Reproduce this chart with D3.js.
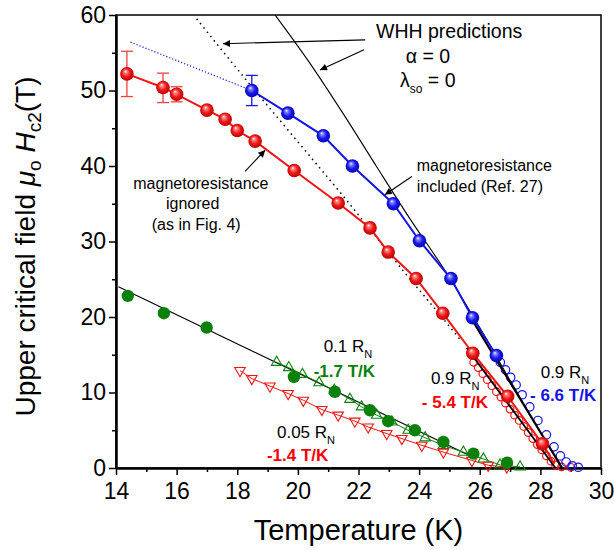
<!DOCTYPE html>
<html>
<head>
<meta charset="utf-8">
<script src="https://cdn.jsdelivr.net/npm/d3@7"></script>
<style>
  body { margin: 0; background: #fff; }
  svg { font-family: "Liberation Sans", Arial, sans-serif; }
</style>
</head>
<body>
<svg id="chart" width="614" height="550"></svg>
<script>
// ---- data (T in K, H in tesla) ----
// red spheres: magnetoresistance ignored
const redT = [14.36, 15.55, 16.0, 17.0, 17.6, 18.0, 18.59, 19.88, 21.33, 22.38, 22.98, 23.9, 24.78, 25.77, 26.92, 28.07];
const redH = [52.2, 50.4, 49.5, 47.4, 46.2, 44.7, 43.3, 39.4, 35.1, 31.8, 28.6, 25.1, 20.5, 15.2, 9.5, 3.2];
const redTailT = [28.07, 28.45];
const redTailH = [3.2, 0.6];
const redErrT = [14.36, 15.55, 16.0];
const redErrLo = [49.2, 48.4, 48.5];
const redErrHi = [55.2, 52.3, 50.5];

// blue spheres: magnetoresistance included
const blueT = [18.48, 19.67, 20.84, 21.8, 23.15, 24.01, 25.05, 25.76, 26.55];
const blueH = [50.0, 47.0, 44.0, 40.0, 35.0, 30.1, 25.1, 19.9, 14.9];
const blueErrT = [18.48];
const blueErrLo = [48.0];
const blueErrHi = [52.0];
const blueDotT = [14.48, 18.48];
const blueDotH = [56.4, 50.0];

// open circles, 0.9 R_N
const redOpenT = [25.8, 25.95, 26.1, 26.25, 26.4, 26.55, 26.7, 26.85, 27.0, 27.15, 27.3, 27.45, 27.6, 27.75, 27.9, 28.05, 28.2, 28.35, 28.5, 28.7, 29.0];
const redOpenH = [14.0, 13.3, 12.5, 11.7, 10.9, 10.1, 9.4, 8.6, 7.8, 7.0, 6.3, 5.5, 4.7, 3.9, 3.1, 2.4, 1.6, 0.9, 0.4, 0.15, 0.1];
const blueOpenT = [26.68, 26.85, 27.02, 27.2, 27.4, 27.65, 27.92, 28.2, 28.45, 28.66, 28.85, 29.05, 29.25];
const blueOpenH = [14.0, 13.0, 12.0, 11.0, 9.7, 8.1, 6.3, 4.4, 2.8, 1.6, 0.8, 0.3, 0.1];

// green filled circles and triangles
const greenT = [14.39, 15.58, 16.99, 19.87, 21.22, 22.38, 22.98, 23.86, 24.8, 25.79, 26.9];
const greenH = [22.8, 20.5, 18.6, 12.06, 10.1, 7.65, 6.2, 5.0, 3.45, 1.9, 0.7];
const greenTriT = [19.3, 19.7, 20.15, 20.7, 21.2, 21.72, 22.1, 22.6, 23.1, 23.64, 24.2, 24.8, 25.46, 26.12, 26.67, 27.33];
const greenTriH = [14.0, 13.3, 12.4, 11.3, 10.3, 9.1, 8.1, 7.0, 6.1, 5.0, 4.0, 3.0, 2.1, 1.2, 0.4, 0.15];
const redTriT = [18.09, 18.48, 19.08, 19.68, 20.18, 20.79, 21.33, 21.88, 22.32, 22.93, 23.43, 24.09, 24.8, 25.74, 26.28, 26.89];
const redTriH = [12.9, 11.85, 10.85, 9.86, 8.97, 7.75, 7.0, 6.2, 5.43, 4.56, 3.9, 3.0, 2.1, 1.0, 0.36, 0.13];

// WHH curves
const whhDotT = [16.66, 17.5, 18.5, 19.5, 20.5, 21.5, 22.5, 23.5, 24.5, 25.4];
const whhDotH = [59.5, 55.3, 50.4, 45.6, 40.8, 36.0, 31.0, 26.0, 21.2, 16.8];
const whhSolidT = [19.25, 20.4, 21.5, 22.6, 23.7, 24.91, 26.0, 27.0, 28.0, 28.7];
const whhSolidH = [60, 53.6, 46.9, 39.9, 33.0, 25.8, 18.6, 11.6, 4.7, 0];

// linear fits
const fitBlueT = [25.6, 28.72];
const fitBlueH = [20.6, 0];
const fitRedT = [25.57, 28.5];
const fitRedH = [15.9, 0];
const fitGreenT = [14.08, 25.9];
const fitGreenH = [24.0, 1.2];

const xTicks = [14, 16, 18, 20, 22, 24, 26, 28, 30];
const yTicks = [0, 10, 20, 30, 40, 50, 60];

// ---- chart ----
const width = 614, height = 550;
const margin = { top: 15, right: 13, bottom: 82, left: 116 };

const svg = d3.select("#chart");

const x = d3.scaleLinear().domain([14, 30]).range([margin.left, width - margin.right]);
const y = d3.scaleLinear().domain([0, 60]).range([height - margin.bottom, margin.top]);

const RED = "#f01414", BLUE = "#1414e6", GREEN = "#0b800b";

const zip = (a, b) => a.map((v, i) => [v, b[i]]);
const line = d3.line().x(d => x(d[0])).y(d => y(d[1]));
const curve = d3.line().x(d => x(d[0])).y(d => y(d[1])).curve(d3.curveMonotoneX);

// gradients for the shaded spheres
const defs = svg.append("defs");
function sphereGrad(id, light, base, dark) {
  const g = defs.append("radialGradient").attr("id", id)
    .attr("cx", "50%").attr("cy", "50%").attr("r", "55%")
    .attr("fx", "38%").attr("fy", "30%");
  g.append("stop").attr("offset", "0%").attr("stop-color", "#fff");
  g.append("stop").attr("offset", "18%").attr("stop-color", light);
  g.append("stop").attr("offset", "55%").attr("stop-color", base);
  g.append("stop").attr("offset", "100%").attr("stop-color", dark);
}
sphereGrad("gRed", "#ff8a8a", "#f01818", "#b00000");
sphereGrad("gBlue", "#8a8aff", "#1a1af0", "#0000a8");

defs.append("marker").attr("id", "arrow")
  .attr("viewBox", "0 0 10 10").attr("refX", 10).attr("refY", 5)
  .attr("markerWidth", 10).attr("markerHeight", 7)
  .attr("markerUnits", "userSpaceOnUse").attr("orient", "auto")
  .append("path").attr("d", "M0,0 L10,5 L0,10 z").attr("fill", "#000");

// frame
svg.append("rect")
  .attr("x", margin.left).attr("y", margin.top)
  .attr("width", width - margin.left - margin.right)
  .attr("height", height - margin.top - margin.bottom)
  .attr("fill", "none").attr("stroke", "#000").attr("stroke-width", 1.5);

// axes
const xAxis = svg.append("g")
  .attr("transform", `translate(0,${y(0)})`)
  .call(d3.axisBottom(x).tickValues(xTicks).tickSize(7).tickSizeOuter(0).tickPadding(8));
const yAxis = svg.append("g")
  .attr("transform", `translate(${x(14)},0)`)
  .call(d3.axisLeft(y).tickValues(yTicks).tickSize(7).tickSizeOuter(0).tickPadding(3));
// minor ticks
svg.append("g")
  .attr("transform", `translate(0,${y(0)})`)
  .call(d3.axisBottom(x).tickValues(d3.range(15, 30, 2)).tickSize(4).tickSizeOuter(0).tickFormat(""));
svg.append("g")
  .attr("transform", `translate(${x(14)},0)`)
  .call(d3.axisLeft(y).tickValues(d3.range(5, 60, 10)).tickSize(4).tickSizeOuter(0).tickFormat(""));
svg.selectAll(".domain").attr("stroke-width", 2);
svg.selectAll(".tick line").attr("stroke-width", 1.5);
svg.selectAll(".tick text").attr("font-size", 23).attr("font-family", "Liberation Sans, Arial, sans-serif").attr("fill", "#000");

// axis titles
svg.append("text")
  .attr("x", (x(14) + x(30)) / 2).attr("y", 540)
  .attr("text-anchor", "middle").attr("font-size", 29)
  .text("Temperature (K)");

const yt = svg.append("text")
  .attr("transform", `translate(35,${y(30) + 5}) rotate(-90)`)
  .attr("text-anchor", "middle").attr("font-size", 28);
yt.append("tspan").text("Upper critical field ");
yt.append("tspan").attr("font-style", "italic").text("\u03bc");
yt.append("tspan").attr("font-size", 19).attr("dy", 6).text("o");
yt.append("tspan").attr("dy", -6).text(" ");
yt.append("tspan").attr("font-style", "italic").text("H");
yt.append("tspan").attr("font-size", 19).attr("dy", 6).text("c2");
yt.append("tspan").attr("dy", -6).text("(T)");

// curves and lines
const plot = svg.append("g");

plot.append("path").datum(zip(blueDotT, blueDotH)).attr("d", line)
  .attr("fill", "none").attr("stroke", BLUE).attr("stroke-width", 1.2).attr("stroke-dasharray", "1.2,2");

plot.append("path").datum(zip(whhDotT, whhDotH)).attr("d", curve)
  .attr("fill", "none").attr("stroke", "#000").attr("stroke-width", 1.5).attr("stroke-dasharray", "1.5,4");

plot.append("path").datum(zip(whhSolidT, whhSolidH)).attr("d", curve)
  .attr("fill", "none").attr("stroke", "#000").attr("stroke-width", 1.1);

plot.append("path").datum(zip(fitGreenT, fitGreenH)).attr("d", line)
  .attr("fill", "none").attr("stroke", "#000").attr("stroke-width", 1.1);

plot.append("path").datum(zip(redTriT, redTriH)).attr("d", line)
  .attr("fill", "none").attr("stroke", RED).attr("stroke-width", 1);
plot.append("path").datum(zip(greenTriT, greenTriH)).attr("d", line)
  .attr("fill", "none").attr("stroke", GREEN).attr("stroke-width", 1);

// open circles
plot.selectAll(".ro").data(zip(redOpenT, redOpenH)).enter().append("circle")
  .attr("cx", d => x(d[0])).attr("cy", d => y(d[1])).attr("r", 3.8)
  .attr("fill", "none").attr("stroke", RED).attr("stroke-width", 1.2);
plot.selectAll(".bo").data(zip(blueOpenT, blueOpenH)).enter().append("circle")
  .attr("cx", d => x(d[0])).attr("cy", d => y(d[1])).attr("r", 4.2)
  .attr("fill", "none").attr("stroke", BLUE).attr("stroke-width", 1.2);

// fit lines for 0.9 R_N
plot.append("path").datum(zip(fitRedT, fitRedH)).attr("d", line)
  .attr("fill", "none").attr("stroke", "#000").attr("stroke-width", 1.8);
plot.append("path").datum(zip(fitBlueT, fitBlueH)).attr("d", line)
  .attr("fill", "none").attr("stroke", "#000").attr("stroke-width", 2.2);

// sphere lines
plot.append("path").datum(zip(redT, redH)).attr("d", line)
  .attr("fill", "none").attr("stroke", RED).attr("stroke-width", 2);
plot.append("path").datum(zip(redTailT, redTailH)).attr("d", line)
  .attr("fill", "none").attr("stroke", RED).attr("stroke-width", 2);
plot.append("path").datum(zip(blueT, blueH)).attr("d", line)
  .attr("fill", "none").attr("stroke", BLUE).attr("stroke-width", 2);

// triangles
const triUp = d3.symbol().type(d3.symbolTriangle).size(48);
plot.selectAll(".gt").data(zip(greenTriT, greenTriH)).enter().append("path")
  .attr("d", triUp).attr("transform", d => `translate(${x(d[0])},${y(d[1])})`)
  .attr("fill", "none").attr("stroke", GREEN).attr("stroke-width", 1.1);
plot.selectAll(".rt").data(zip(redTriT, redTriH)).enter().append("path")
  .attr("d", triUp).attr("transform", d => `translate(${x(d[0])},${y(d[1])}) rotate(180)`)
  .attr("fill", "none").attr("stroke", RED).attr("stroke-width", 1.1);

// green filled circles
plot.selectAll(".gc").data(zip(greenT, greenH)).enter().append("circle")
  .attr("cx", d => x(d[0])).attr("cy", d => y(d[1])).attr("r", 6.2)
  .attr("fill", GREEN);

// error bars
function errBars(T, lo, hi, color) {
  const g = plot.append("g").attr("stroke", color).attr("stroke-width", 1.3);
  T.forEach((t, i) => {
    g.append("line").attr("x1", x(t)).attr("x2", x(t)).attr("y1", y(lo[i])).attr("y2", y(hi[i]));
    [lo[i], hi[i]].forEach(v => g.append("line")
      .attr("x1", x(t) - 6).attr("x2", x(t) + 6).attr("y1", y(v)).attr("y2", y(v)));
  });
}
errBars(redErrT, redErrLo, redErrHi, "#f04040");
errBars(blueErrT, blueErrLo, blueErrHi, BLUE);

// spheres
plot.selectAll(".rs").data(zip(redT, redH)).enter().append("circle")
  .attr("cx", d => x(d[0])).attr("cy", d => y(d[1])).attr("r", 6.8)
  .attr("fill", "url(#gRed)");
plot.selectAll(".bs").data(zip(blueT, blueH)).enter().append("circle")
  .attr("cx", d => x(d[0])).attr("cy", d => y(d[1])).attr("r", 6.8)
  .attr("fill", "url(#gBlue)");

// annotation arrows (data coordinates)
const arrows = [
  [[22.22, 56.7], [17.53, 56.2]],
  [[22.18, 55.4], [20.73, 52.7]],
  [[18.26, 39.3], [18.92, 42.1]],
  [[23.76, 38.6], [22.87, 36.2]]
];
svg.selectAll(".arr").data(arrows).enter().append("line")
  .attr("x1", d => x(d[0][0])).attr("y1", d => y(d[0][1]))
  .attr("x2", d => x(d[1][0])).attr("y2", d => y(d[1][1]))
  .attr("stroke", "#000").attr("stroke-width", 1.1).attr("marker-end", "url(#arrow)");

// text labels
function label(T, H, size, anchor) {
  return svg.append("text").attr("x", x(T)).attr("y", y(H))
    .attr("font-size", size).attr("text-anchor", anchor || "start");
}
label(24.99, 56.9, 19.5, "middle").text("WHH predictions");
label(24.29, 53.6, 19.5, "middle").text("\u03b1 = 0");
const lam = label(23.37, 50.4, 19.5);
lam.append("tspan").text("\u03bb");
lam.append("tspan").attr("font-size", 12).attr("dy", 6).text("so");
lam.append("tspan").attr("dy", -6).text(" = 0");

label(14.57, 37.0, 16).text("magnetoresistance");
label(15.65, 34.35, 16).text("ignored");
label(15.18, 31.57, 16).text("(as in Fig. 4)");
label(23.92, 39.4, 16).text("magnetoresistance");
label(23.92, 36.6, 16).text("included (Ref. 27)");

function rn(T, H, val) {
  const t = label(T, H, 17);
  t.append("tspan").text(val + " R");
  t.append("tspan").attr("font-size", 11).attr("dy", 6).text("N");
}
rn(20.85, 15.33, "0.1");
rn(19.31, 3.94, "0.05");
rn(24.39, 11.16, "0.9");
rn(28.01, 11.95, "0.9");

label(20.52, 12.0, 17).attr("font-weight", "bold").attr("fill", GREEN).text("-1.7 T/K");
label(18.98, 0.89, 17).attr("font-weight", "bold").attr("fill", "#ff0000").text("-1.4 T/K");
label(24.09, 7.9, 17).attr("font-weight", "bold").attr("fill", "#ff0000").text("- 5.4 T/K");
label(27.66, 8.84, 17).attr("font-weight", "bold").attr("fill", BLUE).text("- 6.6 T/K");
</script>
</body>
</html>
